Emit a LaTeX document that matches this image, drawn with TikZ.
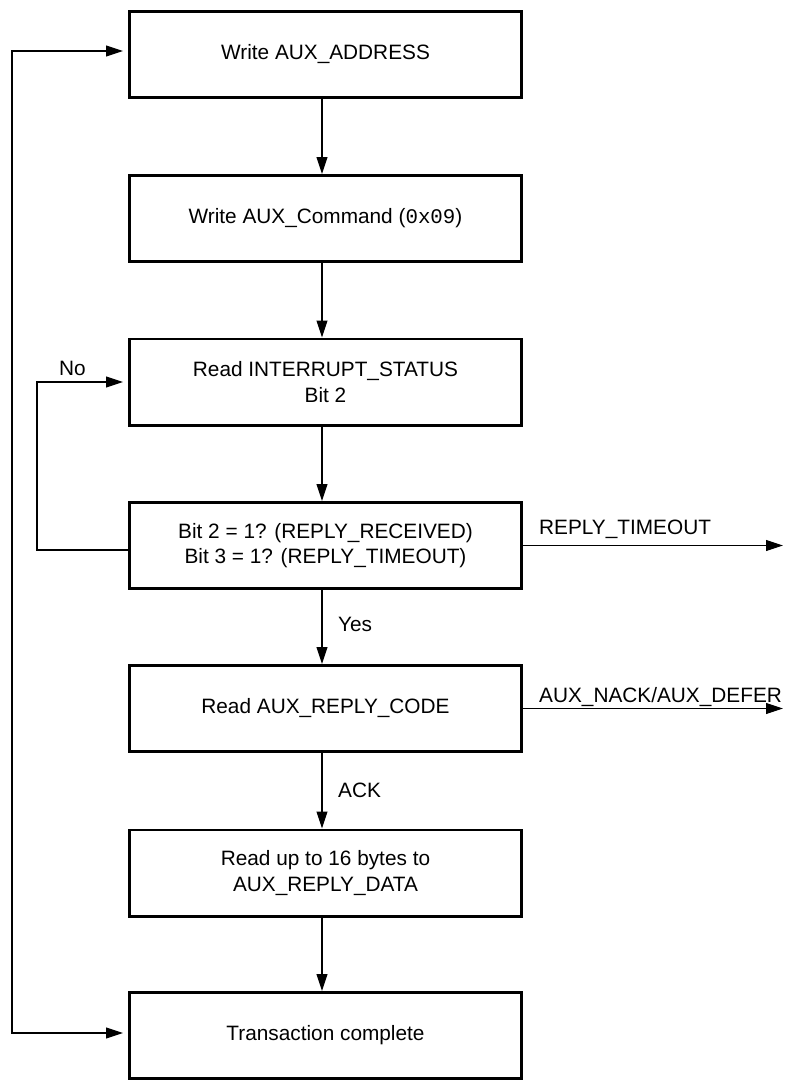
\documentclass[tikz,border=0pt]{standalone}
\usepackage{fontspec}
\setmainfont{Liberation Sans}
\newfontfamily\codefont{Liberation Mono}
\usetikzlibrary{arrows.meta}
\begin{document}
\begin{tikzpicture}[x=1pt,y=-1pt,
  stepbox/.style={draw, line width=2.6pt, minimum width=392.4pt, minimum height=86.4pt, align=center, font=\fontsize{20.8}{25.5}\selectfont, inner sep=0pt},
  flow/.style={line width=1.1pt, -{Triangle[length=17pt,width=11pt]}},
  twoway/.style={line width=1.1pt, {Triangle[length=17pt,width=11pt]}-{Triangle[length=17pt,width=11pt]}, shorten <=5pt, shorten >=5pt},
  lbl/.style={font=\fontsize{20.8}{25.5}\selectfont, inner sep=0pt}
]
\useasboundingbox (0,0) rectangle (788,1080);
\fill[white] (0,0) rectangle (788,1080);
\node[stepbox] (b1) at (325.5,54.5) {Write AUX\_ADDRESS};
\node[stepbox] (b2) at (325.5,218.5) {Write AUX\_Command ({\codefont 0x09})};
\node[stepbox] (b3) at (325.5,382) {Read INTERRUPT\_STATUS\\Bit 2};
\node[stepbox] (b4) at (325.5,545.5) {Bit 2 = 1? (REPLY\_RECEIVED)\\Bit 3 = 1? (REPLY\_TIMEOUT)};
\node[stepbox] (b5) at (325.5,708.5) {Read AUX\_REPLY\_CODE};
\node[stepbox] (b6) at (325.5,873) {Read up to 16 bytes to\\AUX\_REPLY\_DATA};
\node[stepbox] (b7) at (325.5,1035.5) {Transaction complete};

\draw[flow] ([xshift=-3.5pt]b1.south) -- ([xshift=-3.5pt]b2.north);
\draw[flow] ([xshift=-3.5pt]b2.south) -- ([xshift=-3.5pt]b3.north);
\draw[flow] ([xshift=-3.5pt]b3.south) -- ([xshift=-3.5pt]b4.north);
\draw[flow] ([xshift=-3.5pt]b4.south) -- ([xshift=-3.5pt]b5.north);
\draw[flow] ([xshift=-3.5pt]b5.south) -- ([xshift=-3.5pt]b6.north);
\draw[flow] ([xshift=-3.5pt]b6.south) -- ([xshift=-3.5pt]b7.north);

\draw[twoway] ([yshift=2.5pt]b7.west) -- ++(-116,0) |- ([yshift=3.5pt]b1.west);
\draw[flow, shorten >=5pt] ([yshift=-4.5pt]b4.west) -- ++(-91,0) |- (b3.west);

\coordinate (t1) at (783,545.5);
\coordinate (t2) at (783,708.5);
\draw[flow] (b4.east) -- (t1);
\draw[flow] (b5.east) -- (t2);

\node[lbl, anchor=base west] (lno) at (59,375) {No};
\node[lbl, anchor=base west] (lyes) at (338,631) {Yes};
\node[lbl, anchor=base west] (lack) at (338,797) {ACK};
\node[lbl, anchor=base west] (lto) at (539,534) {REPLY\_TIMEOUT};
\node[lbl, anchor=base west] (lnack) at (539,702) {AUX\_NACK/AUX\_DEFER};
\end{tikzpicture}
\end{document}
